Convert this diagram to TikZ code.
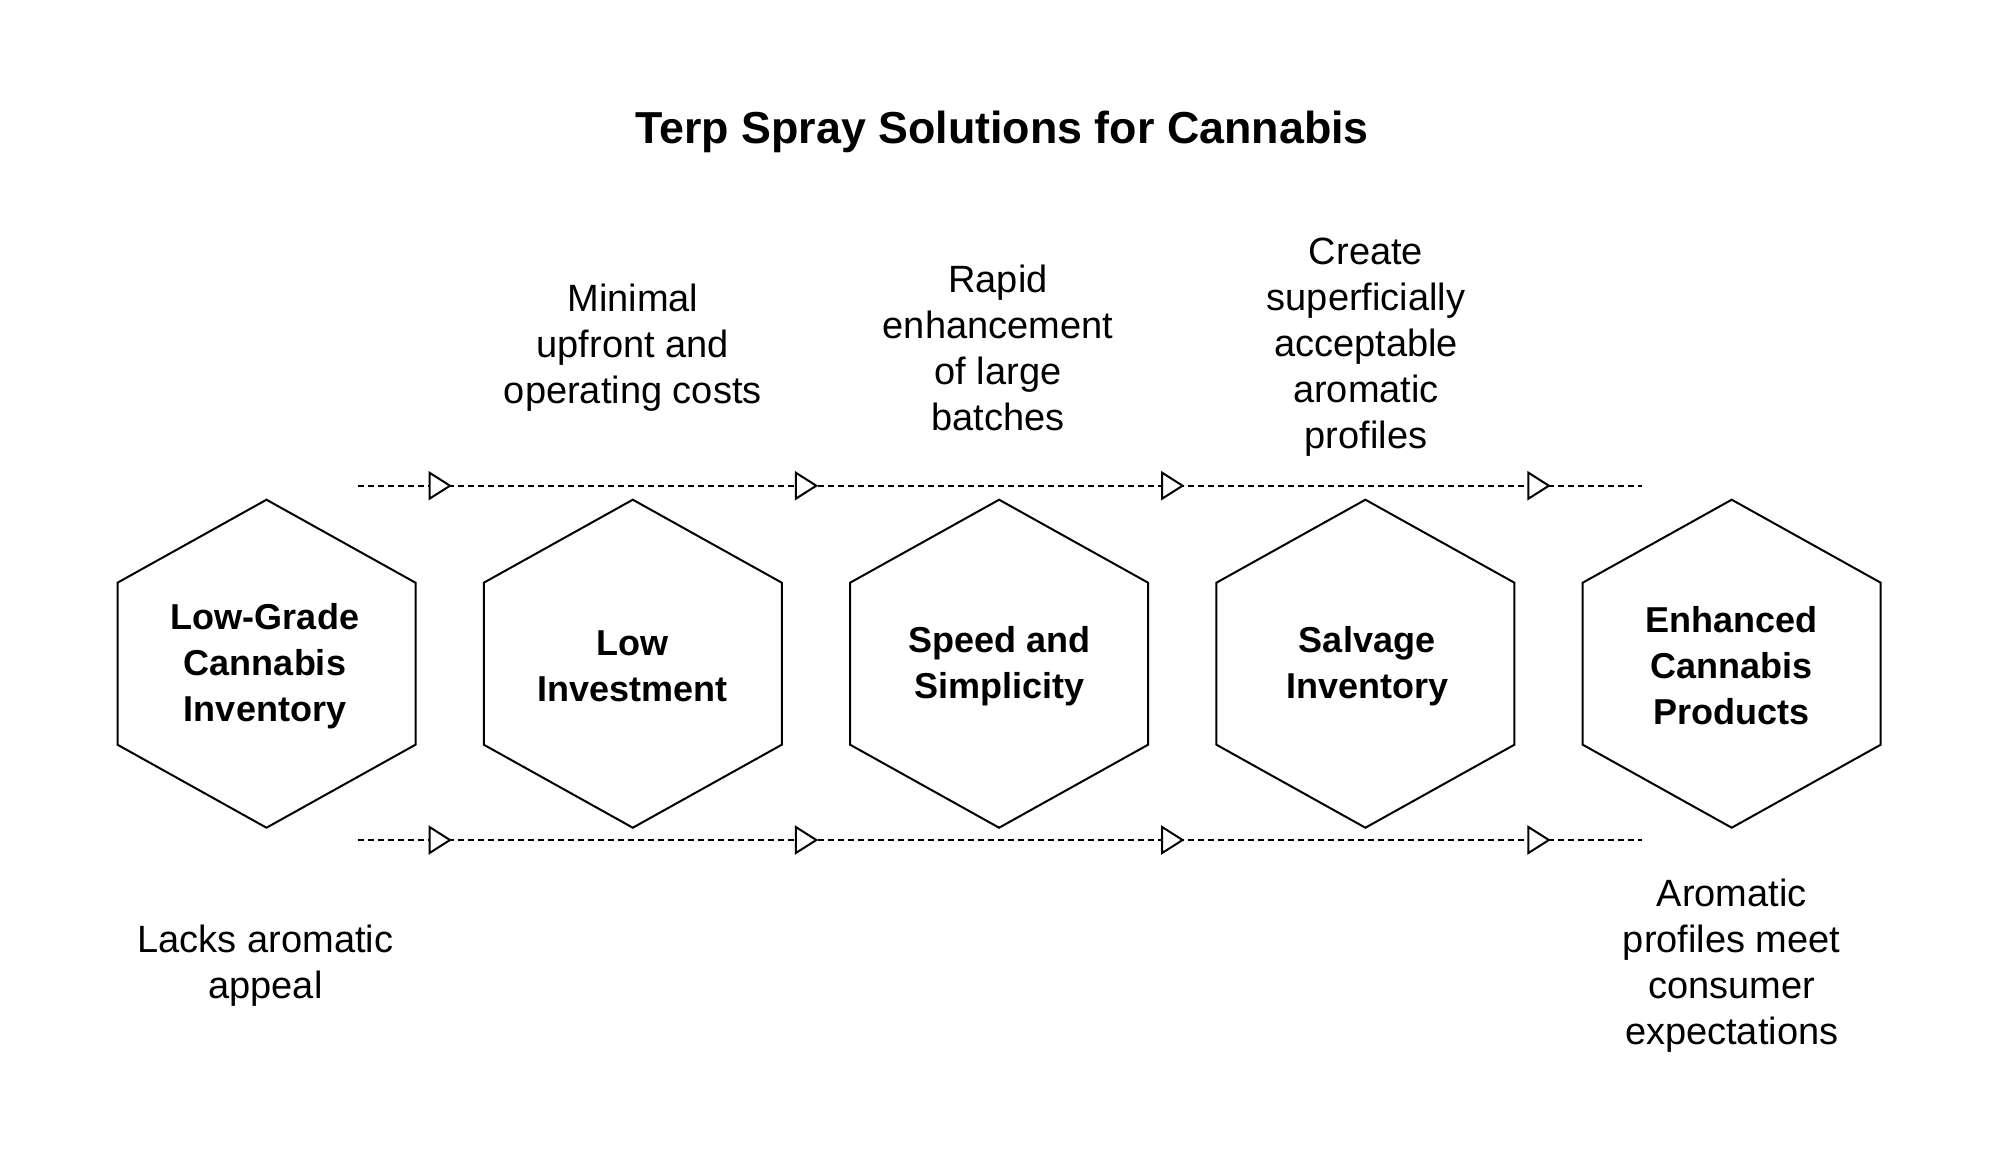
\documentclass[tikz,border=0pt]{standalone}
\usepackage{fontspec}
\setmainfont{Liberation Sans}
\begin{document}
\begin{tikzpicture}[x=1pt,y=-1pt,
  hexbox/.style={draw=black, line width=2pt, line join=miter},
  lbl/.style={font=\bfseries\fontsize{36}{46}\selectfont, align=center, text=black},
  note/.style={font=\fontsize{38}{46}\selectfont, align=center, text=black},
  flow/.style={draw=black, line width=2pt, dash pattern=on 6pt off 4pt},
  tri/.style={draw=black, line width=2pt, fill=white, solid, line join=miter}]
\useasboundingbox (0,0) rectangle (1999,1168);
\fill[white] (0,0) rectangle (1999,1168);

% title
\node[font=\bfseries\fontsize{44.8}{54}\selectfont, anchor=base] (title) at (1002,143) {Terp Spray Solutions for Cannabis};

% hexagons
\foreach \cx in {266.5,632.8,999.1,1365.4,1731.7} {
  \draw[hexbox] (\cx,499.7) -- (\cx+149,582.7) -- (\cx+149,744.7) -- (\cx,827.7) -- (\cx-149,744.7) -- (\cx-149,582.7) -- cycle;
}
\node[lbl] (h1) at (265,666) {Low-Grade\\Cannabis\\Inventory};
\node[lbl] (h2) at (632.8,666) {Low\\Investment};
\node[lbl] (h3) at (999.1,666) {Speed and\\Simplicity};
\node[lbl] (h4) at (1367,666) {Salvage\\Inventory};
\node[lbl] (h5) at (1731.7,666) {Enhanced\\Cannabis\\Products};

% dashed flow lines
\coordinate (ta) at (357.7,485.7);
\coordinate (tb) at (1641.7,485.7);
\coordinate (ba) at (357.7,840);
\coordinate (bb) at (1641.7,840);
\draw[flow] (ta) -- (tb);
\draw[flow] (ba) -- (bb);
\foreach \tx in {450,816.3,1182.6,1548.9} {
  \draw[tri] (\tx,485.7) -- (\tx-20.5,472.7) -- (\tx-20.5,498.7) -- cycle;
  \draw[tri] (\tx,840) -- (\tx-20.5,827) -- (\tx-20.5,853) -- cycle;
}

% notes
\node[note] (n2) at (632.8,347.5) {Minimal\\upfront and\\operating costs};
\node[note] (n3) at (998,347.5) {Rapid\\enhancement\\of large\\batches};
\node[note] (n4) at (1366,347.5) {Create\\superficially\\acceptable\\aromatic\\profiles};
\node[note] (n1) at (265.5,966) {Lacks aromatic\\appeal};
\node[note] (n5) at (1731.7,966) {Aromatic\\profiles meet\\consumer\\expectations};
\end{tikzpicture}
\end{document}
